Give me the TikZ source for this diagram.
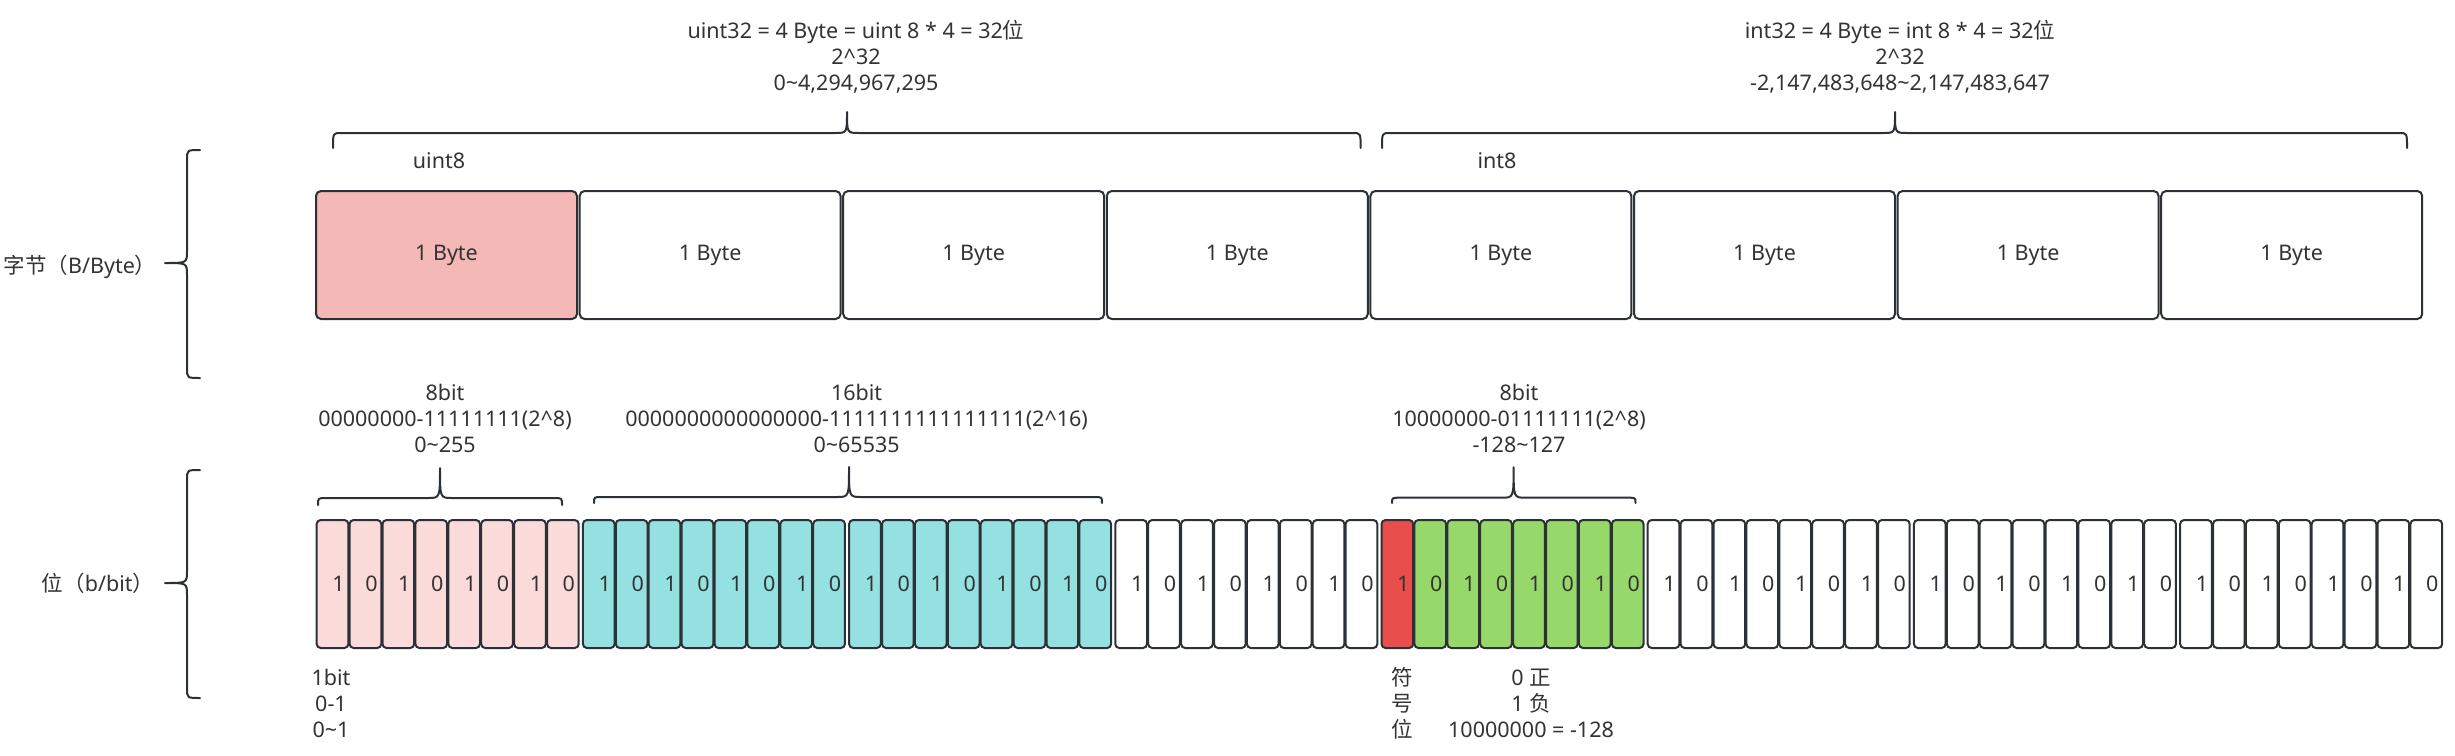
\documentclass[tikz,border=0pt]{standalone}
\usepackage{fontspec}
\setmainfont{Noto Sans}
\newfontfamily\cjk{Noto Sans CJK SC}
\definecolor{strk}{HTML}{2C3137}
\definecolor{txt}{HTML}{333333}
\definecolor{bytered}{HTML}{F4B8B6}
\definecolor{bitpink}{HTML}{FADBD9}
\definecolor{bitcyan}{HTML}{95E0E1}
\definecolor{bitred}{HTML}{E84F4C}
\definecolor{bitgreen}{HTML}{97D86B}
\newcommand\hbrc[6]{% xl xr xm yend yline ytip
  \draw[brc] (#1,#4) .. controls (#1,#5) .. (#1+8,#5) -- (#3-12,#5)
    .. controls (#3,#5) .. (#3,#6) .. controls (#3,#5) .. (#3+12,#5)
    -- (#2-8,#5) .. controls (#2,#5) .. (#2,#4);}
\newcommand\vbrc[6]{% ytop ybot ymid xend xline xtip
  \draw[brc] (#4,#1) .. controls (#5,#1) .. (#5,#1+10) -- (#5,#3-12)
    .. controls (#5,#3) .. (#6,#3) .. controls (#5,#3) .. (#5,#3+12)
    -- (#5,#2-10) .. controls (#5,#2) .. (#4,#2);}
\begin{document}
\begin{tikzpicture}[x=0.5pt,y=-0.5pt,
  every node/.style={text=txt,font=\fontsize{10.75pt}{13pt}\selectfont},
  bytebox/.style={draw=strk,line width=1pt,rounded corners=2.5pt,minimum width=130.5pt,minimum height=64pt,inner sep=0pt,anchor=north west},
  bitbox/.style={draw=strk,line width=1pt,rounded corners=2pt,minimum width=15.85pt,minimum height=64pt,inner sep=0pt,anchor=north west},
  lbl/.style={align=center,inner sep=0pt},
  brc/.style={draw=strk,line width=1pt,line cap=round,line join=round}]
\useasboundingbox (0,0) rectangle (2455,755);
\fill[white] (0,0) rectangle (2455,755);

% byte row
\node[bytebox,fill=bytered] (B1) at (315,190) {1 Byte};
\foreach \g [evaluate=\g as \x using 315+\g*263.6, count=\n from 2] in {1,...,7}
  \node[bytebox,fill=white] (B\n) at (\x,190) {1 Byte};

% bit row
\foreach \g/\col in {0/bitpink,1/bitcyan,2/bitcyan,3/white,4/bitgreen,5/white,6/white,7/white}{
  \foreach \b in {0,...,7}{
    \pgfmathsetmacro\xx{315.7+\g*266.2+\b*32.9}
    \pgfmathtruncatemacro\v{1-mod(\b,2)}
    \def\cc{\col}
    \ifnum\g=4 \ifnum\b=0 \def\cc{bitred}\fi\fi
    \node[bitbox,fill=\cc] (b\g-\b) at (\xx,519) {\hspace*{6pt}\v};
  }
}

% labels
\node[lbl] (T1) at (856,57) {uint32 = 4 Byte = uint 8 * 4 = 32{\cjk 位}\\2\textasciicircum32\\0\textasciitilde4,294,967,295};
\node[lbl] (T2) at (1900,57) {int32 = 4 Byte = int 8 * 4 = 32{\cjk 位}\\2\textasciicircum32\\-2,147,483,648\textasciitilde2,147,483,647};
\node[lbl] (U8) at (439,161) {uint8};
\node[lbl] (I8) at (1497,161) {int8};
\node[lbl] (LB) at (80,267) {{\cjk 字节（}B/Byte{\cjk ）}};
\node[lbl] (Lb) at (98,583) {{\cjk 位（}b/bit{\cjk ）}};
\node[lbl] (S1) at (445,418) {8bit\\00000000-11111111(2\textasciicircum8)\\0\textasciitilde255};
\node[lbl] (S2) at (856.6,418) {16bit\\0000000000000000-1111111111111111(2\textasciicircum16)\\0\textasciitilde65535};
\node[lbl] (S3) at (1519,418) {8bit\\10000000-01111111(2\textasciicircum8)\\-128\textasciitilde127};
\node[lbl] (N1) at (331,703) {1bit\\0-1\\0\textasciitilde1};
\node[lbl] (N2) at (1402,703) {{\cjk 符}\\{\cjk 号}\\{\cjk 位}};
\node[lbl] (N3) at (1531,703) {0 {\cjk 正}\\1 {\cjk 负}\\10000000 = -128};

% braces
\hbrc{333}{1360.6}{847}{148}{133}{112}
\hbrc{1382}{2407}{1895}{148}{133}{112}
\hbrc{318}{562}{440}{505}{498}{468}
\hbrc{594}{1102}{849}{503}{497}{467}
\hbrc{1392}{1635.5}{1513.6}{503}{497.7}{467.3}
\vbrc{150}{378}{263}{200}{187}{165}
\vbrc{470}{698}{583}{200}{187}{165}
\end{tikzpicture}
\end{document}
